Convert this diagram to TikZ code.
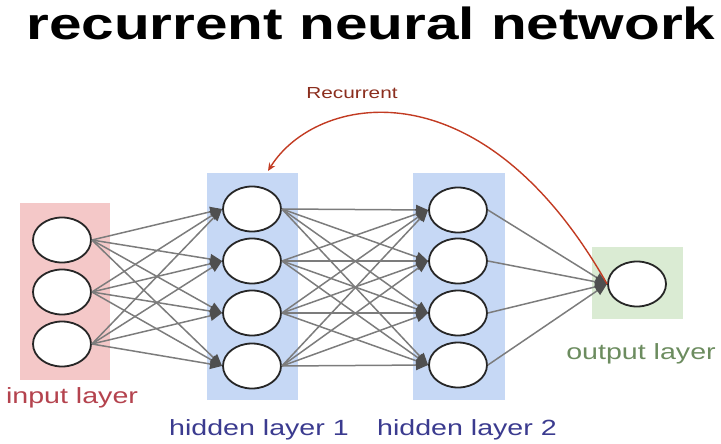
\documentclass[tikz,border=0pt]{standalone}
\usepackage{fontspec}
\setmainfont{Liberation Sans}
\usepackage{tikz}
\usetikzlibrary{arrows.meta}
\usetikzlibrary{shapes.geometric}

\definecolor{inpink}{HTML}{F4C8C8}
\definecolor{hidblue}{HTML}{C6D8F5}
\definecolor{outgreen}{HTML}{DAEBD3}
\definecolor{inred}{HTML}{B4434E}
\definecolor{hidnavy}{HTML}{3B3B8F}
\definecolor{outsage}{HTML}{6C8C5F}
\definecolor{linkgray}{HTML}{7C7C7C}
\definecolor{tipgray}{HTML}{4F4F4F}
\definecolor{recred}{HTML}{C23B22}
\definecolor{rectext}{HTML}{8B2E1E}
\newcommand{\wide}[1]{\scalebox{1.3}[1]{#1}}

\begin{document}
\begin{tikzpicture}[x=1pt, y=-1pt,
	neuron/.style={ellipse, draw=black!85, line width=1.8pt, fill=white, minimum width=58pt, minimum height=45pt, inner sep=0pt},
	band/.style={rectangle, inner sep=0pt, anchor=north west},
	link/.style={draw=linkgray, line width=1.5pt, -{Triangle[length=12pt,width=10pt,color=tipgray]}},
	recur/.style={draw=recred, line width=1.4pt, -{Stealth[length=8pt,width=7pt]}},
	lbl/.style={font=\fontsize{22}{24}\selectfont, anchor=base}]
\useasboundingbox (0,0) rectangle (721,444);
\node[anchor=base, font=\fontsize{45}{50}\selectfont\bfseries] (title) at (371,40) {\wide{recurrent neural network}};
% layer bands
\node[band, fill=inpink, minimum width=90pt, minimum height=177pt] (inband) at (20,203) {};
\node[band, fill=hidblue, minimum width=91pt, minimum height=227pt] (hidband1) at (207,173) {};
\node[band, fill=hidblue, minimum width=92pt, minimum height=227pt] (hidband2) at (413,173) {};
\node[band, fill=outgreen, minimum width=91pt, minimum height=72pt] (outband) at (592,247) {};
% neurons
\node[neuron] (i1) at (62,240) {};
\node[neuron] (i2) at (62,292) {};
\node[neuron] (i3) at (62,344) {};
\node[neuron] (a1) at (252,209) {};
\node[neuron] (a2) at (252,261) {};
\node[neuron] (a3) at (252,313) {};
\node[neuron] (a4) at (252,366) {};
\node[neuron] (b1) at (458,210) {};
\node[neuron] (b2) at (458,261) {};
\node[neuron] (b3) at (458,313) {};
\node[neuron] (b4) at (458,365) {};
\node[neuron] (o) at (637,284) {};
% connections
\foreach \s in {1,2,3}
	\foreach \t in {1,...,4}
		\draw[link] (i\s.east) -- (a\t.west);
\foreach \s in {1,...,4}
	\foreach \t in {1,...,4}
		\draw[link] (a\s.east) -- (b\t.west);
\foreach \s in {1,...,4}
	\draw[link] (b\s.east) -- (o.west);
% recurrent loop
\coordinate (back) at (268,171);
\draw[recur] (o.west) .. controls (480,60) and (315,95) .. (back);
\node[anchor=base, font=\fontsize{16}{18}\selectfont, text=rectext] (reclbl) at (352,99) {\wide{Recurrent}};
% layer names
\node[lbl, text=inred] (inlbl) at (72,403) {\wide{input layer}};
\node[lbl, text=hidnavy] (hidlbl1) at (259,435) {\wide{hidden layer 1}};
\node[lbl, text=hidnavy] (hidlbl2) at (467,435) {\wide{hidden layer 2}};
\node[lbl, text=outsage] (outlbl) at (641,359) {\wide{output layer}};
\end{tikzpicture}
\end{document}
